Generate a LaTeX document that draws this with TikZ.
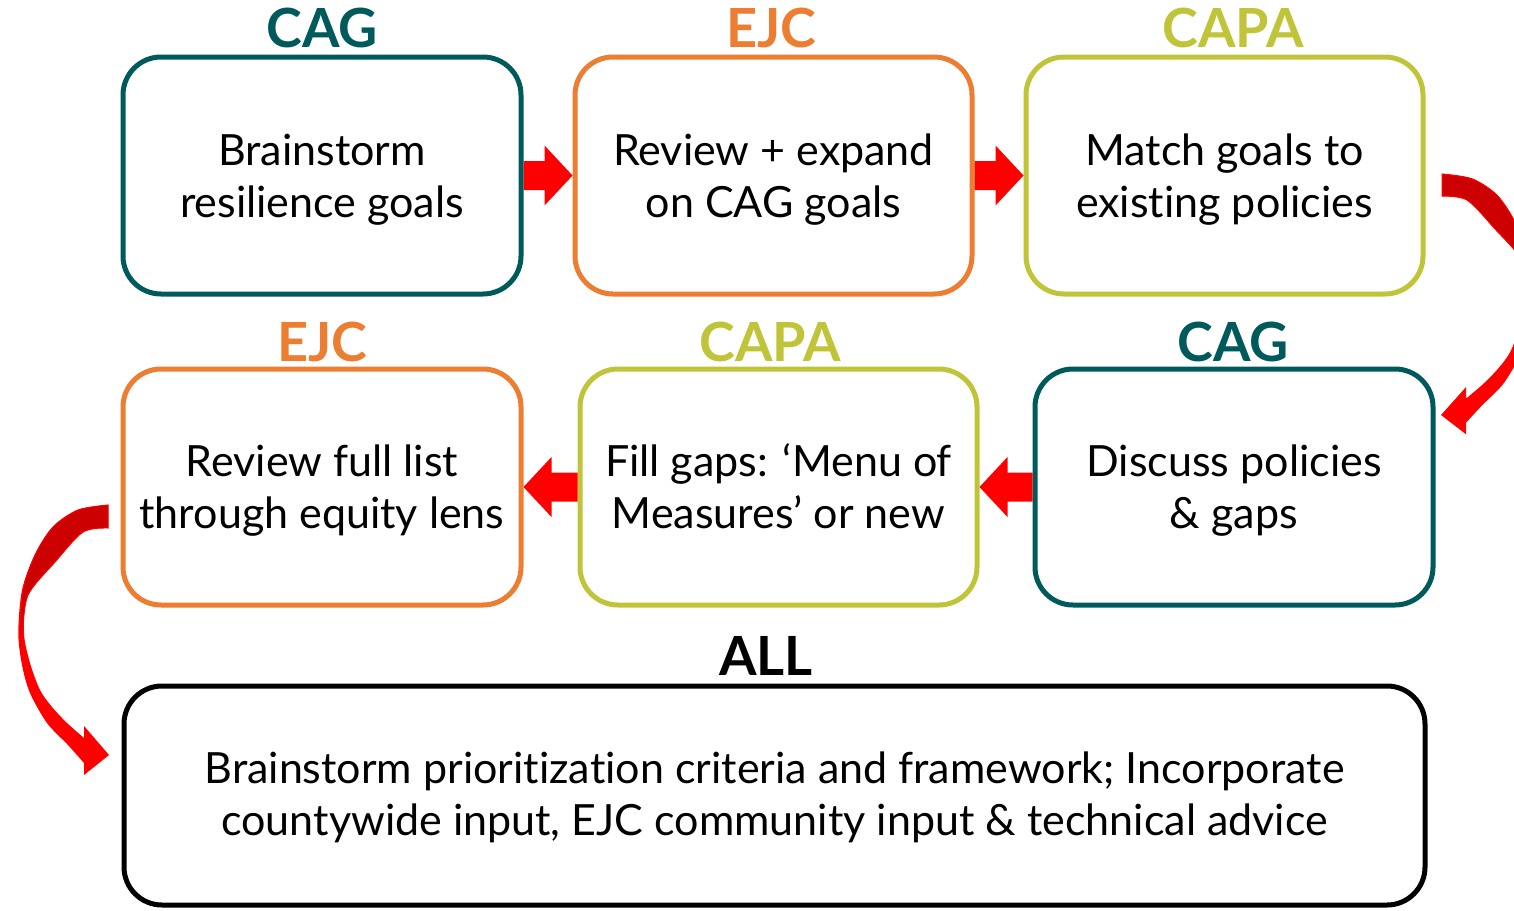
\documentclass[tikz,border=0pt]{standalone}
\usepackage{fontspec}
\setmainfont{Lato}[Ligatures={NoCommon}]
\usetikzlibrary{calc}
\definecolor{cagteal}{RGB}{0,90,91}
\definecolor{ejcorange}{RGB}{237,125,49}
\definecolor{capagreen}{RGB}{192,196,56}
\definecolor{arrowred}{RGB}{255,0,0}
\definecolor{backred}{RGB}{204,0,0}
\newcommand{\ls}{\rule[-9pt]{0pt}{49pt}}
\newcommand{\lsb}{\rule[-11pt]{0pt}{49pt}}
\tikzset{
  box/.style={draw, line width=5pt, rounded corners=38pt, fill=white, align=center,
    inner sep=0pt, font=\fontsize{43}{52}\selectfont, text=black},
  lbl/.style={font=\fontsize{54}{60}\selectfont\bfseries, anchor=base, inner sep=0pt},
  blockarrow/.style={to path={
    ($(\tikztostart)!14.5pt!90:(\tikztotarget)$)
    -- ($(\tikztotarget)!31.53pt!-27.38:(\tikztostart)$)
    -- ($(\tikztotarget)!41.04pt!-46.97:(\tikztostart)$)
    -- (\tikztotarget)
    -- ($(\tikztotarget)!41.04pt!46.97:(\tikztostart)$)
    -- ($(\tikztotarget)!31.53pt!27.38:(\tikztostart)$)
    -- ($(\tikztostart)!14.5pt!-90:(\tikztotarget)$) -- cycle}},
}
\newcommand{\curvedarrowshape}{%
  \fill[arrowred] plot[smooth] coordinates {(0,0) (-30,5) (-55,22) (-73,50) (-86,85) (-89.7,128) (-86,160) (-78,188) (-61,218) (-40,240) (-24,258)}
    -- (-24,270) -- (1,250) -- (-24,221)
    -- plot[smooth] coordinates {(-24,233) (-41,218) (-56,202) (-68,185) (-78,158) (-84,128) (-80,90) (-53,57) (-25,27) (0,23)} -- cycle;
  \filldraw[fill=backred, draw=arrowred, line width=1pt] plot[smooth] coordinates {(0,0) (-30,5) (-55,22) (-73,50) (-85,85) (-88,132)}
    -- plot[smooth] coordinates {(-85.5,128) (-80,90) (-53,57) (-25,27) (0,23)} -- cycle;
}
\begin{document}
\begin{tikzpicture}[x=1pt,y=-1pt]
\useasboundingbox (0,0) rectangle (1514,910);
\clip (0,0) rectangle (1514,910);
% boxes
\node[box, draw=cagteal, minimum width=398pt, minimum height=237pt] (b1) at (322,175.5) {\ls Brainstorm\\\ls resilience goals};
\node[box, draw=ejcorange, minimum width=397pt, minimum height=237pt] (b2) at (773.5,175.5) {\ls Review + expand\\\ls on CAG goals};
\node[box, draw=capagreen, minimum width=397pt, minimum height=237pt] (b3) at (1224.5,175.5) {\ls Match goals to\\\ls existing policies};
\node[box, draw=ejcorange, minimum width=398pt, minimum height=236pt] (b4) at (322,487) {\ls Review full list\\\ls through equity lens};
\node[box, draw=capagreen, minimum width=397pt, minimum height=236pt] (b5) at (778.5,487) {\ls Fill gaps: ‘Menu of\\\ls Measures’ or new};
\node[box, draw=cagteal, minimum width=398pt, minimum height=236pt] (b6) at (1234,487) {\ls Discuss policies\\\ls \& gaps};
\node[box, draw=black, minimum width=1301pt, minimum height=219pt] (b7) at (774.5,795.5) {\lsb Brainstorm prioritization criteria and framework; Incorporate\\\lsb countywide input, EJC community input \& technical advice};
% labels
\node[lbl, text=cagteal] (l1) at (322,47) {CAG};
\node[lbl, text=ejcorange] (l2) at (771,47) {EJC};
\node[lbl, text=capagreen] (l3) at (1233,47) {CAPA};
\node[lbl, text=ejcorange] (l4) at (322,361) {EJC};
\node[lbl, text=capagreen] (l5) at (770,361) {CAPA};
\node[lbl, text=cagteal] (l6) at (1233,361) {CAG};
\node[lbl, text=black] (l7) at (766,675) {ALL};
% block arrows
\fill[arrowred] (b1.east) to[blockarrow] (b2.west);
\fill[arrowred] (b2.east) to[blockarrow] (b3.west);
\fill[arrowred] (b6.west) to[blockarrow] (b5.east);
\fill[arrowred] (b5.west) to[blockarrow] (b4.east);
% curved arrows
\begin{scope}[shift={($(b3.east)+(16.5,-1.5)$)}, xscale=-1, yscale=0.964]
  \curvedarrowshape
\end{scope}
\begin{scope}[shift={($(b4.west)+(-12.5,18)$)}]
  \curvedarrowshape
\end{scope}
\end{tikzpicture}
\end{document}
